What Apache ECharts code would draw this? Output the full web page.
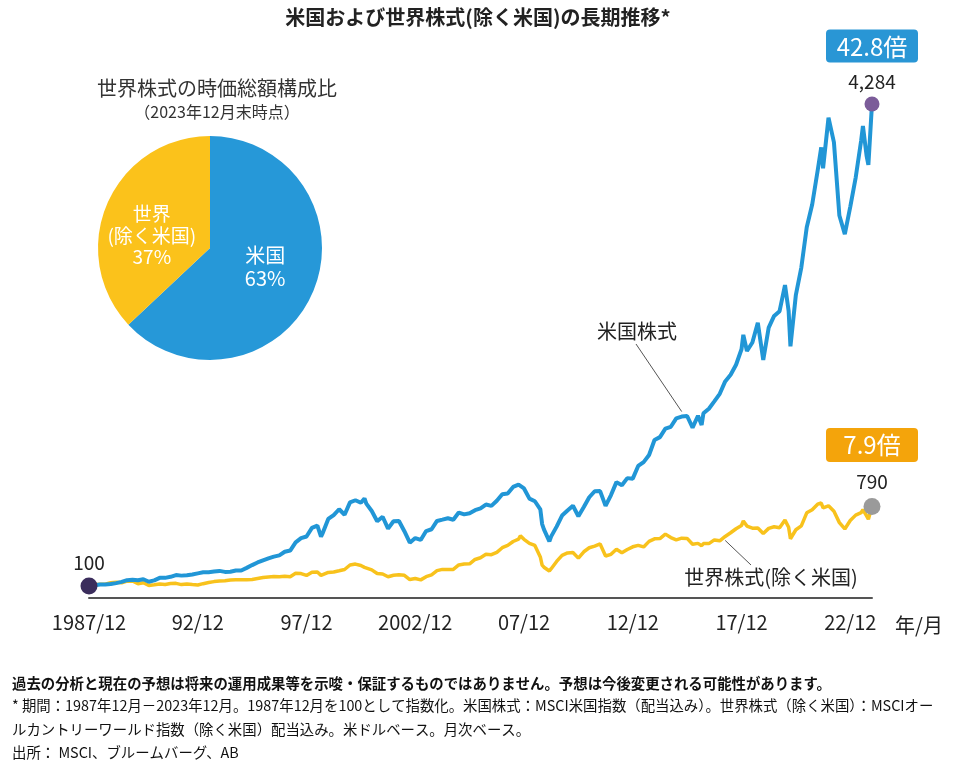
<!DOCTYPE html>
<html><head><meta charset="utf-8">
<script src="https://cdn.jsdelivr.net/npm/echarts@6/dist/echarts.min.js"></script>
<style>html,body{margin:0;padding:0;background:#fff}#c{width:956px;height:769px}</style>
</head><body><div id="c"></div>
<script>
// ---- data (index, 1987/12 = 100) ----
const dates = [
 '1987/12',
 '1988/03','1988/06','1988/09','1988/12',
 '1989/03','1989/06','1989/09','1989/12',
 '1990/03','1990/06','1990/09','1990/12',
 '1991/03','1991/06','1991/09','1991/12',
 '1992/03','1992/06','1992/09','1992/12',
 '1993/03','1993/06','1993/09','1993/12',
 '1994/03','1994/06','1994/09','1994/12',
 '1995/03','1995/06','1995/09','1995/12',
 '1996/03','1996/06','1996/09','1996/12',
 '1997/03','1997/06','1997/09','1997/12',
 '1998/03','1998/06','1998/08','1998/09','1998/12',
 '1999/03','1999/06','1999/09','1999/12',
 '2000/03','2000/06','2000/08','2000/09','2000/12',
 '2001/03','2001/06','2001/09','2001/12',
 '2002/03','2002/06','2002/09','2002/12',
 '2003/03','2003/06','2003/09','2003/12',
 '2004/03','2004/06','2004/09','2004/12',
 '2005/03','2005/06','2005/09','2005/12',
 '2006/03','2006/06','2006/09','2006/12',
 '2007/03','2007/06','2007/09','2007/10','2007/12',
 '2008/03','2008/06','2008/09','2008/10','2008/11','2008/12',
 '2009/02','2009/03','2009/06','2009/09','2009/12',
 '2010/03','2010/06','2010/09','2010/12',
 '2011/03','2011/06','2011/09','2011/12',
 '2012/03','2012/06','2012/09','2012/12',
 '2013/03','2013/06','2013/09','2013/12',
 '2014/03','2014/06','2014/09','2014/12',
 '2015/03','2015/06','2015/09','2015/12',
 '2016/02','2016/03','2016/06','2016/09','2016/12',
 '2017/03','2017/06','2017/09','2017/12',
 '2018/01','2018/03','2018/06','2018/09','2018/12',
 '2019/03','2019/06','2019/09','2019/12',
 '2020/02','2020/03','2020/06','2020/09','2020/12',
 '2021/03','2021/06','2021/08','2021/09','2021/12',
 '2022/03','2022/06','2022/09','2022/12',
 '2023/03','2023/06','2023/07','2023/09','2023/10','2023/12'
];
const usValues = [
 100,
 105.8,112.8,113.2,116.7,
 125.0,136.0,150.6,153.8,
 149.3,158.7,137.0,149.1,
 170.8,170.5,179.6,194.7,
 189.9,193.5,199.6,209.7,
 219.0,220.0,225.6,231.0,
 222.4,223.3,234.2,234.2,
 257.0,281.5,304.0,322.4,
 339.9,355.2,366.1,396.9,
 407.5,478.7,514.7,529.6,
 603.8,623.8,528.1,561.7,681.6,
 715.6,766.1,718.2,825.3,
 844.3,822.1,859.5,814.4,750.7,
 662.1,701.0,598.0,661.8,
 664.2,575.5,476.0,515.8,
 499.7,576.8,592.3,664.4,
 676.0,687.8,675.0,737.2,
 721.6,731.6,758.2,773.8,
 806.7,795.3,840.4,896.7,
 902.7,959.9,979.6,995.6,946.7,
 858.0,835.5,766.0,637.5,591.0,596.8,
 487.7,530.5,615.1,711.6,755.4,
 796.4,705.6,785.4,870.0,
 922.2,923.5,795.5,888.9,
 1001.4,974.1,1036.3,1031.7,
 1141.6,1175.0,1237.0,1367.1,
 1392.1,1465.2,1482.0,1555.1,
 1570.6,1575.4,1474.2,1577.7,
 1497.3,1599.2,1639.0,1702.8,1768.2,
 1875.8,1933.6,2020.6,2154.9,
 2279.9,2139.4,2213.3,2384.2,2061.4,
 2342.9,2444.3,2485.8,2711.9,
 2487.7,2180.1,2627.5,2863.9,3213.7,
 3411.9,3704.5,3908,3726.4,4165,
 3951.0,3315.6,3153.9,3391.8,
 3645.4,3964.4,4093,3835.7,3756.4,4284
];
const worldValues = [
 100,
 110,115,115,128,
 133,128,142,143,
 120,128,104,110,
 118,113,122,123,
 112,118,112,108,
 120,130,138,144,
 146,152,154,155,
 155,157,165,173,
 178,182,181,184,
 180,210,208,192,
 220,222,192,190,218,
 222,232,243,282,
 290,278,262,255,240,
 208,204,180,193,
 197,193,156,165,
 153,181,197,233,
 244,243,244,283,
 290,292,330,345,
 375,372,392,432,
 452,486,506,535,505,
 470,452,352,281,263,272,
 230,250,313,366,387,
 391,342,397,432,
 446,465,360,375,
 419,389,417,440,
 453,439,487,509,
 512,550,520,500,
 515,513,462,470,
 450,468,468,500,492,
 530,562,597,625,
 665,620,602,604,555,
 600,614,605,672,
 610,510,588,622,735,
 762,810,820,778,796,
 748,650,595,668,
 715,736,762,708,680,790
];
const tickLabels = ['1987/12','92/12','97/12','2002/12','07/12','12/12','17/12','22/12'];
const pieCategories = ['米国','世界\n(除く米国)'];
const pieValues = [63, 37];
const usName = '米国株式';
const worldName = '世界株式(除く米国)';

// ---- helpers ----
const FONT = '"Noto Sans CJK JP", "Noto Sans", sans-serif';
function monthIndex(s){ const [y,m] = s.split('/').map(Number); return (y-1987)*12 + (m-12); }
const xs = dates.map(monthIndex);
const usData = xs.map((x,i)=>[x, usValues[i]]);
const worldData = xs.map((x,i)=>[x, worldValues[i]]);
const last = xs.length-1;
const fmt = v => v.toLocaleString('en-US');
const BLUE = '#2196d6', YELLOW = '#f8c21c';

const chart = echarts.init(document.getElementById('c'));
const option = {
  backgroundColor: '#fff',
  animation: false,
  textStyle: {fontFamily: FONT},
  grid: {left: 89, right: 84, top: 21.5, bottom: 171.5, containLabel: false},
  xAxis: {
    type: 'value', min: 0, max: 432, interval: 60,
    axisLine: {lineStyle: {color: '#555', width: 2}},
    axisTick: {show: false}, splitLine: {show: false},
    axisLabel: {
      margin: 15, fontSize: 20, color: '#222', fontFamily: FONT, showMaxLabel: false,
      formatter: v => (v % 60 === 0 && v/60 < tickLabels.length) ? tickLabels[v/60] : ''
    }
  },
  yAxis: {type: 'value', min: 0, max: 5000, show: false},
  series: [
    {type: 'pie', center: [210, 248], radius: 112, startAngle: 90, clockwise: true,
     silent: true, labelLine: {show: false},
     label: {position: 'inside', color: '#fff', fontSize: 20, lineHeight: 23, fontFamily: FONT,
             formatter: p => p.name + '\n' + p.value + '%'},
     data: [
       {name: pieCategories[0], value: pieValues[0], itemStyle: {color: '#2698d8'}, label: {offset: [1, -5]}},
       {name: pieCategories[1], value: pieValues[1], itemStyle: {color: '#fbc21b'},
        label: {offset: [-4, 11], fontSize: 19, lineHeight: 21.5}}
     ]},
    {type: 'line', name: worldName, data: worldData, showSymbol: false, symbol: 'none',
     lineStyle: {color: YELLOW, width: 3.5}, z: 2},
    {type: 'line', name: usName, data: usData, showSymbol: false, symbol: 'none',
     lineStyle: {color: BLUE, width: 4}, z: 3},
    // start dot
    {type: 'scatter', data: [[xs[0], usValues[0]]], symbolSize: 17, z: 5,
     itemStyle: {color: '#3b2d5c', opacity: 1},
     label: {show: true, position: 'top', distance: 5, fontSize: 19, color: '#222',
             formatter: p => fmt(p.value[1])}},
    // end dots
    {type: 'scatter', data: [[xs[last], usValues[last]]], symbolSize: 15, z: 5,
     itemStyle: {color: '#7b5c99', opacity: 1},
     label: {show: true, position: 'top', distance: 5, fontSize: 19, color: '#222',
             formatter: p => fmt(p.value[1])}},
    {type: 'scatter', data: [[xs[last], worldValues[last]]], symbolSize: 17, z: 5,
     itemStyle: {color: '#9a9a9a', opacity: 1},
     label: {show: true, position: 'top', distance: 7, fontSize: 19, color: '#222',
             formatter: p => fmt(p.value[1])}},
    // ratio boxes
    {type: 'scatter', data: [[xs[last], usValues[last]]], symbolSize: 1, z: 6,
     itemStyle: {color: 'rgba(0,0,0,0)', opacity: 1},
     label: {show: true, position: 'top', distance: 41, fontSize: 24, color: '#fff',
             backgroundColor: '#2996d5', borderRadius: 4, padding: [4, 11, 3, 11],
             width: 70, align: 'center', lineHeight: 26,
             formatter: p => (p.value[1]/usValues[0]).toFixed(1) + '倍'}},
    {type: 'scatter', data: [[xs[last], worldValues[last]]], symbolSize: 1, z: 6,
     itemStyle: {color: 'rgba(0,0,0,0)', opacity: 1},
     label: {show: true, position: 'top', distance: 44, fontSize: 24, color: '#fff',
             backgroundColor: '#f4a40b', borderRadius: 4, padding: [4, 11, 4, 11],
             width: 70, align: 'center', lineHeight: 26,
             formatter: p => (p.value[1]/worldValues[0]).toFixed(1) + '倍'}}
  ]
};
chart.setOption(option);

// annotations anchored to data points
const usAnchorIdx = dates.indexOf('2015/03');
const wAnchorIdx = dates.indexOf('2017/03');
const pU = chart.convertToPixel({gridIndex: 0}, [xs[usAnchorIdx], usValues[usAnchorIdx]]);
const pW = chart.convertToPixel({gridIndex: 0}, [xs[wAnchorIdx], worldValues[wAnchorIdx]]);
const axisEnd = chart.convertToPixel({gridIndex: 0}, [432, 0]);

const noteStyle = {fill: '#111', fontSize: 14.4, fontFamily: FONT};
chart.setOption({
  graphic: [
    {type: 'text', left: 'center', top: 7, style: {text: '米国および世界株式(除く米国)の長期推移*', fill: '#222', fontSize: 20, fontWeight: 'bold', fontFamily: FONT}},
    {type: 'text', x: 217, y: 88, style: {text: '世界株式の時価総額構成比', fill: '#333', fontSize: 20, fontFamily: FONT, align: 'center', verticalAlign: 'middle'}},
    {type: 'text', x: 217, y: 112, style: {text: '（2023年12月末時点）', fill: '#333', fontSize: 16, fontFamily: FONT, align: 'center', verticalAlign: 'middle'}},
    {type: 'line', shape: {x1: 636, y1: 344, x2: pU[0], y2: pU[1] - 5}, style: {stroke: '#555', lineWidth: 1}},
    {type: 'text', x: 637, y: 331, style: {text: usName, fill: '#222', fontSize: 20, fontFamily: FONT, align: 'center', verticalAlign: 'middle'}},
    {type: 'line', shape: {x1: pW[0], y1: pW[1] + 4, x2: 751, y2: 565}, style: {stroke: '#555', lineWidth: 1}},
    {type: 'text', x: 771, y: 577, style: {text: worldName, fill: '#222', fontSize: 20, fontFamily: FONT, align: 'center', verticalAlign: 'middle'}},
    {type: 'text', x: axisEnd[0] + 47, y: 625, style: {text: '年/月', fill: '#222', fontSize: 20, fontFamily: FONT, align: 'center', verticalAlign: 'middle'}},
    {type: 'text', x: 12, y: 684, style: Object.assign({}, noteStyle, {verticalAlign: 'middle', fontWeight: 'bold', text: '過去の分析と現在の予想は将来の運用成果等を示唆・保証するものではありません。予想は今後変更される可能性があります。'})},
    {type: 'text', x: 12, y: 706, style: Object.assign({}, noteStyle, {verticalAlign: 'middle', text: '* 期間：1987年12月－2023年12月。1987年12月を100として指数化。米国株式：MSCI米国指数（配当込み）。世界株式（除く米国）：MSCIオー'})},
    {type: 'text', x: 12, y: 730, style: Object.assign({}, noteStyle, {verticalAlign: 'middle', text: 'ルカントリーワールド指数（除く米国）配当込み。米ドルベース。月次ベース。'})},
    {type: 'text', x: 12, y: 753, style: Object.assign({}, noteStyle, {verticalAlign: 'middle', text: '出所： MSCI、ブルームバーグ、AB'})}
  ]
});
</script>
</body></html>
